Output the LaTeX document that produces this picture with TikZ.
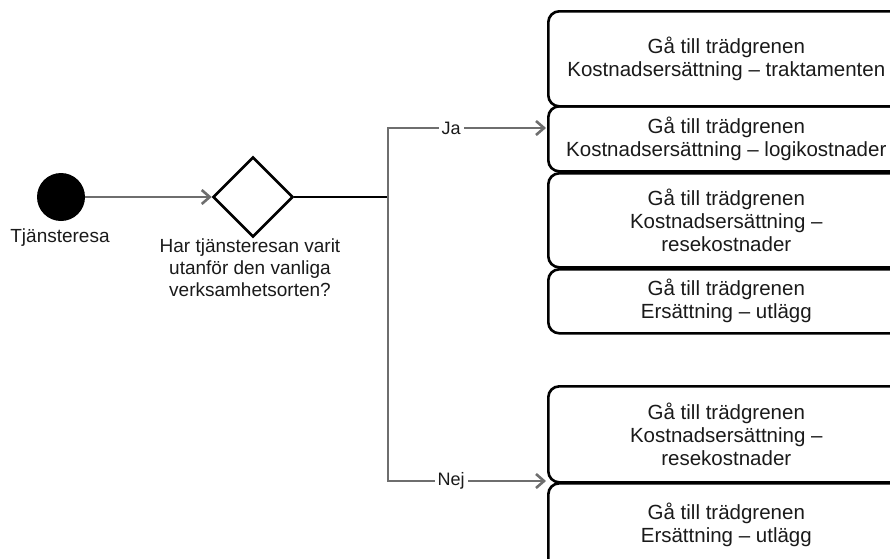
\documentclass[tikz,border=0pt]{standalone}
\usepackage{fontspec}
\setmainfont{Liberation Sans}
\usetikzlibrary{arrows.meta,shapes.geometric}
\definecolor{txt}{HTML}{1A1A1A}
\definecolor{conn}{HTML}{6E6E6E}
\tikzset{
  x=1pt,y=-1pt,
  every node/.style={text=txt,font=\fontsize{19}{22}\selectfont},
  box/.style={draw=black,line width=2.6pt,rounded corners=11pt,anchor=north west,
    minimum width=356pt,align=center,inner sep=0pt,font=\fontsize{20.5}{23}\selectfont},
  connline/.style={draw=conn,line width=2.6pt},
  arr/.style={connline,-{Straight Barb[length=8pt,width=14pt,line width=2.6pt]}},
  lbl/.style={fill=white,inner sep=3pt,font=\fontsize{18}{20}\selectfont},
}
\begin{document}
\begin{tikzpicture}
\useasboundingbox (0,0) rectangle (890,558);
\clip (0,0) rectangle (890,558);
% start
\node[circle,fill=black,minimum size=48pt,inner sep=0pt] (start) at (61,197) {};
\node[anchor=center] (startlbl) at (60,238) {Tjänsteresa};
% decision
\node[diamond,draw=black,line width=2.6pt,minimum width=80pt,minimum height=80pt,inner sep=0pt,aspect=1] (dec) at (253,197) {};
\node[align=center] (q) at (250,268) {Har tjänsteresan varit\\utanför den vanliga\\verksamhetsorten?};
% boxes
\node[box,minimum height=95pt] (b1) at (547,10) {Gå till trädgrenen\\Kostnadsersättning – traktamenten};
\node[box,minimum height=65pt] (b2) at (547,105) {Gå till trädgrenen\\Kostnadsersättning – logikostnader};
\node[box,minimum height=94pt] (b3) at (547,172) {Gå till trädgrenen\\Kostnadsersättning –\\resekostnader};
\node[box,minimum height=64pt] (b4) at (547,268) {Gå till trädgrenen\\Ersättning – utlägg};
\node[box,minimum height=96pt] (b5) at (547,385) {Gå till trädgrenen\\Kostnadsersättning –\\resekostnader};
\node[box,minimum height=94pt] (b6) at (547,482) {\raisebox{26pt}{\begin{tabular}{@{}c@{}}Gå till trädgrenen\\Ersättning – utlägg\end{tabular}}};
% connectors
\coordinate (jct) at (388,197);
\coordinate (jatgt) at (546,128);
\coordinate (nejtgt) at (546,481);
\draw[arr] (start) -- (dec.west);
\draw[draw=black,line width=1.8pt] (dec.east) -- (jct);
\draw[arr] (jct) |- (jatgt) node[lbl,pos=0.70] (ja) {Ja};
\draw[arr] (jct) |- (nejtgt) node[lbl,pos=0.70] (nej) {Nej};
\end{tikzpicture}
\end{document}
